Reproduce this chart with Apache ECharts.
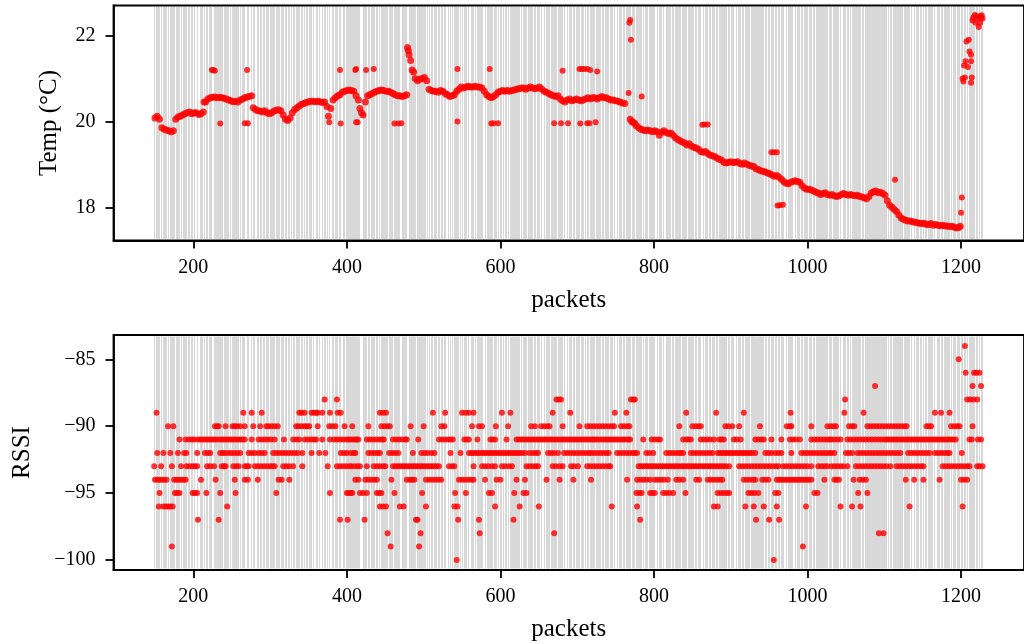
<!DOCTYPE html>
<html><head><meta charset="utf-8">
<script src="https://cdn.jsdelivr.net/npm/echarts@6/dist/echarts.min.js"></script>
<style>html,body{margin:0;padding:0;background:#fff}#c{width:1024px;height:644px}</style>
</head><body><div id="c"></div>
<script>
// ---- tick labels ----
const xTicks = [200, 400, 600, 800, 1000, 1200];
const tempTicks = [18, 20, 22];
const rssiTicks = [-100, -95, -90, -85];

// ---- temperature [packet, °C] ----
const tempA = [[150,20.08],[153,20.12],[156,20.05],[159,19.85],[162,19.82],[165,19.8],[168,19.78],[171,19.76],[174,19.78],[177,20.05],[180,20.1],[183,20.12],[186,20.15],[189,20.18],[192,20.2],[195,20.22],[198,20.18],[201,20.2],[204,20.2],[207,20.16],[210,20.18],[213,20.22],[214,20.45],[216,20.45],[219,20.52],[222,20.55],[225,20.56],[228,20.57],[231,20.55],[234,20.56],[237,20.55],[240,20.54],[243,20.52],[246,20.5],[249,20.48],[252,20.46],[255,20.47],[258,20.45],[261,20.5],[264,20.52],[267,20.55],[270,20.57],[273,20.58],[276,20.6],[278,20.32],[281,20.28],[284,20.25],[287,20.24],[290,20.22],[293,20.25],[296,20.2],[299,20.18],[302,20.2],[305,20.24],[308,20.26],[311,20.27],[314,20.25],[317,20.15],[320,20.05],[323,20.02],[326,20.08],[329,20.2],[332,20.28],[335,20.32],[338,20.36],[341,20.4],[344,20.42],[347,20.44],[350,20.46],[353,20.47],[356,20.47],[359,20.46],[362,20.47],[365,20.46],[368,20.44],[371,20.45],[374,20.35],[376,20.12],[379,20.3],[382,20.5],[385,20.55],[388,20.6],[391,20.62],[394,20.68],[397,20.7],[400,20.72],[403,20.73],[406,20.72],[409,20.7],[412,20.6]];
const tempB = [[415,20.5],[417,20.3],[419,20.2],[421,20.15],[424,20.45],[427,20.6],[430,20.62],[433,20.65],[436,20.68],[439,20.7],[442,20.72],[445,20.73],[448,20.72],[451,20.7],[454,20.7],[457,20.68],[460,20.65],[463,20.62],[466,20.6],[469,20.6],[472,20.58],[475,20.6],[478,20.62],[479,21.72],[480,21.65],[481,21.55],[483,21.42],[485,21.2],[487,21.15],[489,21.0],[492,20.95],[495,20.98],[498,21.0],[501,21.02],[504,20.95],[507,20.75],[510,20.72],[513,20.7],[516,20.7],[519,20.68],[522,20.72],[525,20.7],[528,20.65],[531,20.62],[534,20.58],[537,20.6],[540,20.62],[543,20.7],[546,20.75],[549,20.8],[552,20.78],[555,20.8],[558,20.82],[561,20.8],[564,20.8],[567,20.82],[570,20.8],[573,20.8],[576,20.78],[579,20.7],[582,20.62],[585,20.58],[588,20.55],[591,20.58],[594,20.62],[597,20.68],[600,20.7],[603,20.72],[606,20.7],[609,20.72],[612,20.7],[615,20.72],[618,20.73],[621,20.75],[624,20.76],[627,20.78],[630,20.78],[633,20.75],[636,20.78],[639,20.8],[642,20.78],[645,20.76],[648,20.78],[651,20.8],[654,20.75],[657,20.7],[660,20.68],[663,20.65],[666,20.62],[669,20.6],[672,20.58],[675,20.6],[678,20.52],[681,20.48],[684,20.45],[687,20.5],[690,20.52],[693,20.48],[696,20.5],[699,20.52],[702,20.5],[705,20.48],[708,20.5],[711,20.53],[714,20.55],[717,20.52],[720,20.55]];
const tempC = [[723,20.55],[726,20.52],[729,20.55],[732,20.58],[735,20.55],[738,20.55],[741,20.52],[744,20.5],[747,20.5],[750,20.48],[753,20.47],[756,20.45],[759,20.43],[762,20.42],[769,20.05],[771,20.0],[773,19.98],[775,19.95],[777,19.9],[780,19.85],[783,19.82],[786,19.8],[789,19.78],[792,19.8],[795,19.78],[798,19.76],[801,19.78],[804,19.76],[807,19.68],[810,19.75],[813,19.78],[816,19.74],[819,19.72],[822,19.73],[825,19.68],[828,19.62],[831,19.58],[834,19.55],[837,19.52],[840,19.5],[843,19.45],[846,19.48],[849,19.42],[852,19.4],[855,19.38],[858,19.35],[861,19.3],[864,19.28],[867,19.3],[870,19.25],[873,19.22],[876,19.2],[879,19.18],[882,19.15],[885,19.12],[888,19.1],[891,19.05],[894,19.03],[897,19.05],[900,19.06],[903,19.04],[906,19.05],[909,19.06],[912,19.02],[915,19.0],[918,19.03],[921,19.0],[924,18.98],[927,18.96],[930,18.95],[933,18.9],[936,18.88],[939,18.85],[942,18.84],[945,18.82],[948,18.8],[951,18.78],[954,18.75],[957,18.72],[960,18.74],[963,18.7],[966,18.65],[969,18.6],[972,18.56],[975,18.55],[978,18.58],[981,18.6],[984,18.62],[987,18.6],[990,18.58],[993,18.5],[996,18.45],[999,18.42],[1002,18.42],[1005,18.4],[1008,18.38],[1011,18.35],[1014,18.33],[1017,18.3],[1020,18.32],[1023,18.34],[1026,18.3],[1029,18.28]];
const tempD = [[1032,18.3],[1035,18.27],[1038,18.25],[1041,18.27],[1044,18.3],[1047,18.32],[1050,18.3],[1053,18.28],[1056,18.3],[1059,18.28],[1062,18.27],[1065,18.28],[1068,18.25],[1071,18.24],[1074,18.22],[1077,18.2],[1080,18.25],[1083,18.33],[1086,18.36],[1089,18.38],[1092,18.34],[1095,18.35],[1098,18.32],[1101,18.28],[1104,18.15],[1107,18.05],[1110,18.0],[1113,17.95],[1116,17.9],[1119,17.82],[1122,17.75],[1125,17.72],[1128,17.7],[1131,17.68],[1134,17.68],[1137,17.66],[1140,17.65],[1143,17.64],[1146,17.63],[1149,17.62],[1152,17.63],[1155,17.6],[1158,17.6],[1161,17.62],[1164,17.58],[1167,17.6],[1170,17.58],[1173,17.57],[1176,17.58],[1179,17.57],[1182,17.56],[1185,17.55],[1188,17.56],[1191,17.54],[1194,17.52],[1197,17.53],[1199,17.56]];
const tempOut = [[224,21.2],[226,21.2],[228,21.18],[270,21.2],[391,21.2],[411,21.2],[412,21.22],[425,21.2],[435,21.22],[544,21.22],[586,21.22],[681,21.18],[703,21.22],[706,21.22],[709,21.22],[713,21.22],[717,21.2],[726,21.16],[235,19.95],[267,19.96],[271,19.96],[377,19.98],[392,19.95],[412,19.98],[414,19.98],[462,19.95],[467,19.95],[471,19.96],[544,20.0],[588,19.95],[591,19.96],[597,19.96],[670,19.96],[679,19.96],[688,19.96],[704,19.95],[713,19.96],[716,19.96],[724,19.98],[767,20.66],[768,22.3],[769,22.36],[770,21.9],[784,20.58],[863,19.92],[866,19.93],[870,19.93],[953,19.28],[956,19.28],[960,19.28],[961,18.04],[964,18.05],[968,18.06],[1114,18.64],[1200,17.87],[1201,18.23]];
const tempEnd = [[1202,21.0],[1203,20.93],[1205,21.02],[1213,20.9],[1214,21.02],[1204,21.3],[1206,21.4],[1209,21.27],[1213,21.4],[1207,21.86],[1210,21.9],[1211,21.63],[1213,21.55],[1215,22.35],[1216,22.42],[1218,22.48],[1219,22.3],[1220,22.45],[1222,22.4],[1223,22.2],[1224,22.45],[1225,22.3],[1226,22.42],[1227,22.47],[1228,22.4]];

// ---- RSSI: packets observed at each level ----
const rssi84 = [1205];
const rssi85 = [1197];
const rssi86 = [1206,1217,1220,1224];
const rssi87 = [1088,1215,1226];
const rssi88 = [371,387,673,676,679,770,773,775,1049,1208,1212,1216,1221];
const rssi89 = [152,265,276,289,338,341,345,354,357,360,362,368,378,388,392,443,447,451,512,528,550,555,559,565,602,613,668,691,749,764,842,881,917,978,1048,1073,1166,1174,1185];
const rssi90 = [167,174,228,231,233,242,251,254,257,261,267,278,287,295,298,302,306,310,334,337,341,345,348,351,362,377,381,385,397,407,428,445,449,453,456,483,500,523,527,563,572,576,594,610,640,645,653,657,661,664,681,703,713,717,721,725,729,733,737,741,745,748,757,761,765,768,833,850,854,858,861,893,897,902,911,938,973,977,979,1005,1026,1030,1034,1037,1054,1058,1061,1078,1082,1086,1090,1094,1098,1102,1106,1110,1114,1118,1122,1126,1129,1155,1158,1161,1187,1191,1195,1198,1215];
const rssi91 = [182,190,194,198,201,206,209,212,215,218,221,224,227,230,234,237,240,243,246,249,252,255,258,261,264,267,276,285,289,293,297,301,306,318,330,334,338,345,349,353,357,360,368,378,383,387,391,395,399,402,405,408,411,413,415,426,430,434,438,442,446,448,460,464,468,472,476,478,493,520,524,528,532,535,538,553,556,559,570,587,590,593,608,621,624,627,630,633,636,639,642,645,648,651,654,657,660,663,666,669,672,675,678,681,684,687,690,693,696,699,702,705,708,711,714,717,720,722,725,728,731,734,737,740,743,746,749,752,755,758,761,764,767,769,786,797,801,805,808,838,842,845,848,861,865,869,873,878,885,888,891,904,908,913,932,936,940,943,953,966,977,981,985,990,1005,1009,1013,1017,1021,1025,1028,1031,1035,1039,1043,1052,1056,1060,1064,1068,1072,1076,1080,1084,1088,1092,1096,1100,1103,1106,1109,1112,1115,1118,1121,1124,1127,1130,1133,1136,1139,1142,1145,1148,1151,1154,1157,1160,1163,1166,1169,1172,1175,1178,1181,1184,1187,1190,1193,1211,1214,1222,1226];
const rssi92 = [153,161,170,180,188,191,205,215,219,222,235,238,241,245,249,253,257,261,272,276,280,285,289,293,304,308,312,316,320,324,328,332,336,342,354,364,372,392,396,400,405,409,411,428,432,436,440,443,455,459,463,467,486,497,501,505,510,514,535,548,559,562,565,568,571,574,577,580,583,586,589,592,595,598,601,604,607,610,613,616,619,622,625,628,632,638,642,646,649,662,666,670,675,683,687,691,695,699,703,707,711,715,718,722,726,730,734,738,741,752,756,760,764,768,772,775,778,790,794,799,816,820,824,828,832,835,838,848,852,856,860,864,868,872,876,883,886,889,892,895,898,901,904,907,910,913,916,919,922,925,928,932,945,949,953,958,962,966,979,992,996,1000,1004,1008,1012,1016,1020,1024,1028,1031,1035,1050,1054,1058,1065,1069,1073,1077,1081,1085,1089,1093,1097,1101,1105,1109,1113,1117,1121,1131,1135,1139,1143,1147,1151,1155,1159,1166,1170,1174,1178,1182,1185,1201];
const rssi93 = [149,158,172,184,191,195,199,202,205,218,222,227,237,240,242,252,256,259,267,270,272,280,284,288,292,296,300,303,306,317,321,325,330,342,375,387,391,395,399,403,406,410,414,417,426,435,439,443,447,450,460,463,466,469,472,475,478,481,484,487,490,493,496,499,502,505,508,511,514,517,520,533,537,540,565,576,580,584,589,593,602,606,611,615,634,638,642,646,649,668,672,677,681,692,696,701,713,717,721,725,729,733,737,741,743,780,783,786,789,792,795,798,801,804,807,810,813,816,819,822,825,828,831,834,837,840,843,846,849,852,855,858,861,864,867,870,873,876,879,882,885,888,891,894,898,911,915,919,923,927,931,935,939,943,947,951,955,959,962,968,972,976,980,984,988,992,996,1000,1005,1014,1018,1022,1026,1031,1035,1039,1043,1047,1052,1063,1067,1071,1075,1079,1083,1087,1091,1095,1099,1103,1108,1116,1120,1124,1128,1132,1136,1140,1144,1148,1151,1176,1180,1184,1188,1192,1196,1200,1204,1208,1211,1221,1224,1228];
const rssi94 = [150,153,156,159,162,165,175,178,181,184,187,190,210,229,254,267,271,284,311,315,325,411,415,424,428,432,436,439,458,478,482,485,488,503,507,511,515,519,523,546,550,554,558,562,565,580,595,600,621,632,660,677,695,718,765,778,782,786,790,795,801,805,809,813,818,829,833,838,855,859,870,874,878,882,886,889,917,921,925,929,932,941,945,949,960,963,966,969,972,975,978,981,984,987,990,993,996,999,1002,1005,1022,1035,1038,1041,1060,1068,1072,1076,1128,1139,1151,1172,1200,1204,1208];
const rssi95 = [156,176,179,182,199,202,205,217,235,255,308,378,400,402,405,407,417,421,426,439,442,445,462,498,541,555,585,589,618,630,634,777,781,784,795,798,801,812,816,820,825,841,883,887,891,895,898,923,927,931,936,958,962,1009,1013,1066,1078];
const rssi96 = [155,161,164,167,170,173,244,443,447,451,469,474,503,540,544,593,625,650,745,778,878,883,919,930,943,960,998,1043,1058,1069,1133,1202];
const rssi97 = [206,233,391,401,423,490,492,545,572,617,782,933,950,963];
const rssi98 = [453,496,573,670,1093,1099];
const rssi99 = [172,457,494,994];
const rssi100 = [543,956];

// ---- build series data ----
const rssiLevels = [[-84,rssi84],[-85,rssi85],[-86,rssi86],[-87,rssi87],[-88,rssi88],[-89,rssi89],[-90,rssi90],[-91,rssi91],[-92,rssi92],[-93,rssi93],[-94,rssi94],[-95,rssi95],[-96,rssi96],[-97,rssi97],[-98,rssi98],[-99,rssi99],[-100,rssi100]];
const rssiData = [];
rssiLevels.forEach(([lvl, arr]) => arr.forEach(p => rssiData.push([p, lvl])));
const tempCurve = [].concat(tempA, tempB, tempC, tempD);
const tempSingles = [].concat(tempOut, tempEnd);

// grey marks: one vertical line per received packet (packets with an RSSI reading)
const pktSet = new Set();
rssiData.forEach(d => pktSet.add(d[0]));
const packetLines = Array.from(pktSet).sort((a,b)=>a-b).map(p => [p, 0]);

const FONT = 'Liberation Serif';
const minus = v => (v < 0 ? '\u2212' + Math.abs(v) : String(v));
const plain = v => String(v);

function vline(params, api) {
  const cs = params.coordSys;
  const x = Math.floor(api.coord([api.value(0), api.value(1)])[0]) + 0.5;
  return {
    type: 'line',
    shape: { x1: x, y1: cs.y + 1.5, x2: x, y2: cs.y + cs.height - 1.5 },
    style: { stroke: '#d8d8d8', lineWidth: 1 },
    silent: true
  };
}

function xAx(i) {
  return {
    gridIndex: i, type: 'value', min: 96, max: 1282,
    name: 'packets', nameLocation: 'middle', nameGap: 47,
    nameTextStyle: { fontFamily: FONT, fontSize: 25, color: '#000' },
    axisLine: { show: true, onZero: false, lineStyle: { color: '#000', width: 1.8 } },
    axisTick: { show: true, customValues: xTicks, length: 8, lineStyle: { color: '#000', width: 1.8 } },
    axisLabel: { customValues: xTicks, fontFamily: FONT, fontSize: 20, color: '#000', margin: 17, formatter: plain },
    splitLine: { show: false }
  };
}

const option = {
  animation: false,
  backgroundColor: '#fff',
  grid: [
    { left: 113.5, top: 5.5, width: 922, height: 235, show: true, borderColor: '#000', borderWidth: 1.8, backgroundColor: 'transparent' },
    { left: 113.5, top: 335, width: 922, height: 235, show: true, borderColor: '#000', borderWidth: 1.8, backgroundColor: 'transparent' }
  ],
  xAxis: [xAx(0), xAx(1)],
  yAxis: [
    {
      gridIndex: 0, type: 'value', min: 17.226, max: 22.70,
      name: 'Temp (°C)', nameLocation: 'middle', nameGap: 52,
      nameTextStyle: { fontFamily: FONT, fontSize: 25, color: '#000' },
      axisLine: { show: true, onZero: false, lineStyle: { color: '#000', width: 1.8 } },
      axisTick: { show: true, customValues: tempTicks, length: 8, lineStyle: { color: '#000', width: 1.8 } },
      axisLabel: { customValues: tempTicks, fontFamily: FONT, fontSize: 20, color: '#000', margin: 18, formatter: plain },
      splitLine: { show: false }
    },
    {
      gridIndex: 1, type: 'value', min: -100.75, max: -83.18,
      name: 'RSSI', nameLocation: 'middle', nameGap: 79,
      nameTextStyle: { fontFamily: FONT, fontSize: 25, color: '#000' },
      axisLine: { show: true, onZero: false, lineStyle: { color: '#000', width: 1.8 } },
      axisTick: { show: true, customValues: rssiTicks, length: 8, lineStyle: { color: '#000', width: 1.8 } },
      axisLabel: { customValues: rssiTicks, fontFamily: FONT, fontSize: 20, color: '#000', margin: 18, formatter: minus },
      splitLine: { show: false }
    }
  ],
  series: [
    { type: 'custom', xAxisIndex: 0, yAxisIndex: 0, data: packetLines, renderItem: vline, encode: { x: 0, y: 1 }, silent: true, z: 1, clip: false },
    { type: 'custom', xAxisIndex: 1, yAxisIndex: 1, data: packetLines, renderItem: vline, encode: { x: 0, y: 1 }, silent: true, z: 1, clip: false },
    { type: 'scatter', xAxisIndex: 0, yAxisIndex: 0, data: tempCurve, symbol: 'circle', symbolSize: 7, itemStyle: { color: '#ff0000' }, silent: true, z: 3 },
    { type: 'scatter', xAxisIndex: 0, yAxisIndex: 0, data: tempSingles, symbol: 'circle', symbolSize: 6, itemStyle: { color: '#ff0000' }, silent: true, z: 3 },
    { type: 'scatter', xAxisIndex: 1, yAxisIndex: 1, data: rssiData, symbol: 'circle', symbolSize: 6, itemStyle: { color: '#ff0000' }, silent: true, z: 3 }
  ]
};
const chart = echarts.init(document.getElementById('c'));
chart.setOption(option);
</script></body></html>
